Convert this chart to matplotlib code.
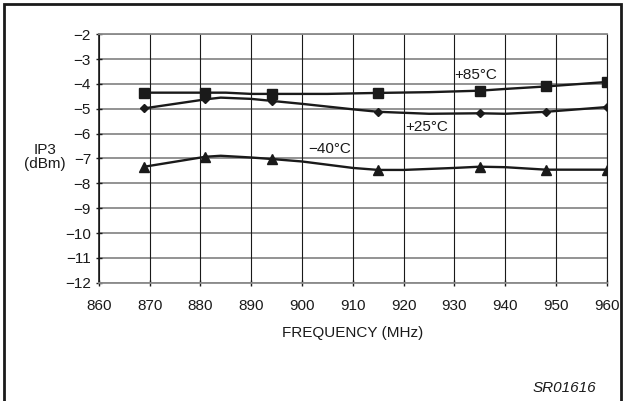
import matplotlib
matplotlib.use("Agg")
import matplotlib.pyplot as plt
from matplotlib.patches import Rectangle

plt.rcParams['font.family'] = ['Liberation Sans', 'DejaVu Sans']

# measured points (markers)
freqMarks = [869, 881, 894, 915, 935, 948, 960]
ip3Hot = [-4.35, -4.35, -4.40, -4.36, -4.27, -4.10, -3.92]     # +85C
ip3Room = [-4.98, -4.62, -4.68, -5.12, -5.18, -5.12, -4.93]    # +25C
ip3Cold = [-7.33, -6.93, -7.02, -7.46, -7.33, -7.45, -7.45]    # -40C

# traced curve shape between markers
freqHotCurve = [869, 881, 885, 890, 894, 905, 915, 925, 935, 940, 948, 960]
ip3HotCurve = [-4.35, -4.35, -4.35, -4.40, -4.40, -4.40, -4.36, -4.33, -4.27, -4.20, -4.10, -3.92]
freqRoomCurve = [869, 881, 884, 890, 894, 900, 910, 915, 925, 935, 940, 948, 960]
ip3RoomCurve = [-4.98, -4.62, -4.55, -4.60, -4.68, -4.80, -5.02, -5.12, -5.20, -5.18, -5.20, -5.12, -4.93]
freqColdCurve = [869, 881, 884, 890, 894, 900, 910, 915, 920, 930, 935, 940, 948, 960]
ip3ColdCurve = [-7.33, -6.93, -6.89, -6.96, -7.02, -7.12, -7.38, -7.46, -7.46, -7.38, -7.33, -7.35, -7.45, -7.45]

xTicks = list(range(860, 961, 10))
yTicks = list(range(-12, -1))

fig = plt.figure(figsize=(6.25, 4.01), dpi=100)
ax = fig.add_axes([0.158, 0.295, 0.813, 0.6195])

# grid
for y in yTicks:
  ax.axhline(y, color='#8a8a8a', lw=1.3, zorder=1)
for x in xTicks:
  ax.axvline(x, color='#1a1a1a', lw=0.8, zorder=1)

lineKw = dict(color='#1a1a1a', lw=1.7, zorder=3)
ax.plot(freqHotCurve, ip3HotCurve, **lineKw)
ax.plot(freqRoomCurve, ip3RoomCurve, **lineKw)
ax.plot(freqColdCurve, ip3ColdCurve, **lineKw)
ax.plot(freqMarks, ip3Hot, ls='none', marker='s', ms=6.5, color='#1a1a1a', zorder=4)
ax.plot(freqMarks, ip3Room, ls='none', marker='D', ms=4.2, color='#1a1a1a', zorder=4)
ax.plot(freqMarks, ip3Cold, ls='none', marker='^', ms=6.5, color='#1a1a1a', zorder=4)

ax.set_xlim(860, 960)
ax.set_ylim(-12, -2)
ax.set_xticks(xTicks)
ax.set_yticks(yTicks)
ax.tick_params(axis='both', direction='inout', length=5, width=1, color='#1a1a1a',
               labelsize=11, labelcolor='#1a1a1a', pad=3)
ax.tick_params(axis='x', pad=9)
ax.spines['left'].set_color('#1a1a1a')
ax.spines['left'].set_linewidth(1.2)
ax.spines['right'].set_color('#1a1a1a')
ax.spines['right'].set_linewidth(0.8)
ax.spines['top'].set_color('#8a8a8a')
ax.spines['top'].set_linewidth(1.3)
ax.spines['bottom'].set_color('#8a8a8a')
ax.spines['bottom'].set_linewidth(1.3)

txtKw = dict(fontsize=11, color='#1a1a1a', ha='center', va='center')
ax.text(934.2, -3.64, '+85°C', **txtKw)
ax.text(924.6, -5.73, '+25°C', **txtKw)
ax.text(905.5, -6.62, '\u221240°C', **txtKw)

fig.text(45 / 625, 1 - 157 / 401, 'IP3\n(dBm)', linespacing=1.0, **txtKw)
fig.text(353 / 625, 1 - 333 / 401, 'FREQUENCY (MHz)', **txtKw)
fig.text(564 / 625, 1 - 388 / 401, 'SR01616', fontstyle='italic', **txtKw)

# outer frame (bottom edge outside the picture)
fig.patches.append(Rectangle((4 / 625, -0.1), 617 / 625, 1.1 - 4 / 401, transform=fig.transFigure,
                             fill=False, ec='#1a1a1a', lw=2, figure=fig))

fig.savefig('out.png', dpi=100)
